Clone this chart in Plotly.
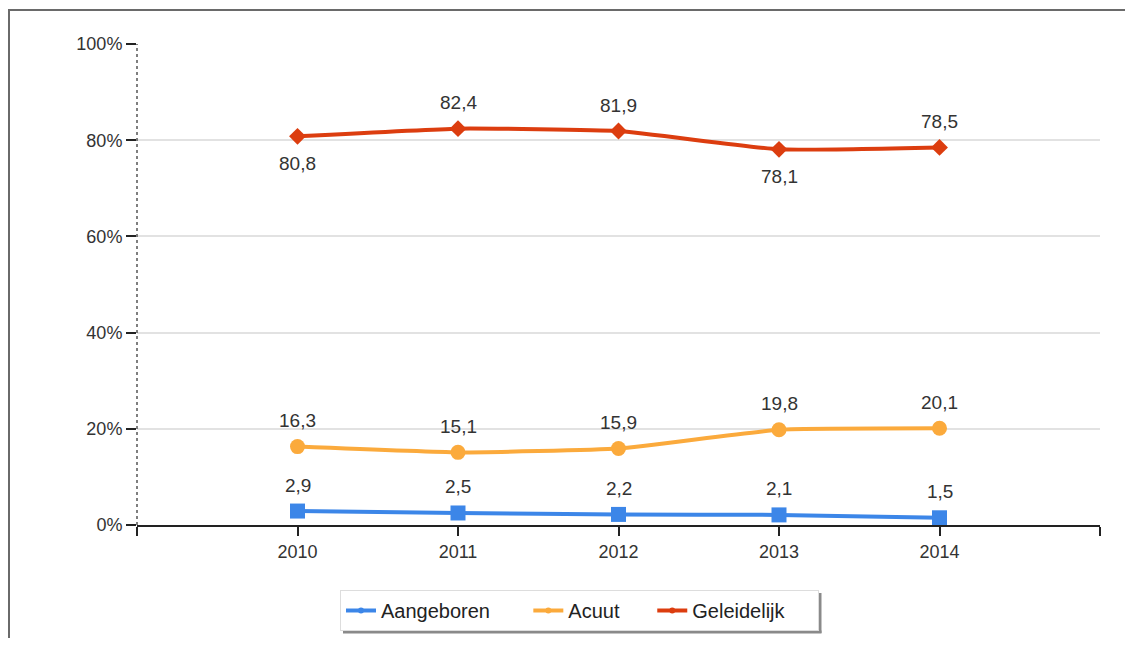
import plotly.graph_objects as go

# ---- data ----
years = [2010, 2011, 2012, 2013, 2014]
aangeboren = [2.9, 2.5, 2.2, 2.1, 1.5]
acuut = [16.3, 15.1, 15.9, 19.8, 20.1]
geleidelijk = [80.8, 82.4, 81.9, 78.1, 78.5]
y_ticks = [0, 20, 40, 60, 80, 100]
y_tick_labels = ["0%", "20%", "40%", "60%", "80%", "100%"]
series_names = ["Aangeboren", "Acuut", "Geleidelijk"]

# ---- style ----
colors = {"Aangeboren": "#3C86E8", "Acuut": "#FBAA3C", "Geleidelijk": "#DC3D0F"}
symbols = {"Aangeboren": "square", "Acuut": "circle", "Geleidelijk": "diamond"}
msize = {"Aangeboren": 15, "Acuut": 15, "Geleidelijk": 13}
label_below = {"Aangeboren": [False] * 5, "Acuut": [False] * 5,
               "Geleidelijk": [True, False, False, True, False]}
legend_pad = {"Aangeboren": 6, "Acuut": 5, "Geleidelijk": 5}  # trailing spacing
FONT = "Liberation Sans, Arial, sans-serif"
TXT = "#333333"

OFF = 8  # page body margin
W, H = 1133 - 2 * OFF, 646 - 2 * OFF
# plot area in screen pixels
L, R, T, B = 137, 1100, 44, 525


def px(x):
    return (x - L) / (R - L)


def py(y):
    return (B - y) / (B - T)


data = {"Aangeboren": aangeboren, "Acuut": acuut, "Geleidelijk": geleidelijk}

fig = go.Figure()
for name in series_names:
    fig.add_trace(go.Scatter(
        x=years, y=data[name], mode="lines+markers", name=name,
        line=dict(color=colors[name], width=4, shape="spline", smoothing=0.4),
        marker=dict(symbol=symbols[name], size=msize[name], color=colors[name]),
        showlegend=False, cliponaxis=False, hoverinfo="x+y+name"))
for name in series_names:
    fig.add_trace(go.Scatter(
        x=[None], y=[None], mode="lines+markers",
        name=name + "\u00a0" * legend_pad[name],
        line=dict(color=colors[name], width=4),
        marker=dict(symbol="circle", size=6, color=colors[name]),
        showlegend=True))

annotations = []
for name in series_names:
    for x, v, below in zip(years, data[name], label_below[name]):
        annotations.append(dict(
            x=x, y=v, xref="x", yref="y", text=f"{v:.1f}".replace(".", ","),
            showarrow=False, yshift=-27 if below else 26,
            font=dict(family=FONT, size=19, color=TXT)))

shapes = [
    # dotted y axis line
    dict(type="line", xref="paper", yref="paper", x0=0, x1=0, y0=0, y1=1,
         line=dict(color="#555555", width=1.5, dash="dot")),
    # outer frame (top and left)
    dict(type="line", xref="paper", yref="paper", x0=px(8), x1=px(1140),
         y0=py(10), y1=py(10), line=dict(color="#6a6a6a", width=2)),
    dict(type="line", xref="paper", yref="paper", x0=px(9), x1=px(9),
         y0=py(10), y1=py(650), line=dict(color="#6a6a6a", width=2)),
    # legend shadow
    dict(type="line", xref="paper", yref="paper", x0=px(820), x1=px(820),
         y0=py(593), y1=py(633), line=dict(color="#8a8a8a", width=3)),
    dict(type="line", xref="paper", yref="paper", x0=px(343), x1=px(821.5),
         y0=py(632), y1=py(632), line=dict(color="#8a8a8a", width=3)),
]

fig.update_layout(
    width=W, height=H,
    margin=dict(l=L - OFF, r=OFF + W - R, t=T - OFF, b=OFF + H - B, pad=0,
                autoexpand=False),
    paper_bgcolor="white", plot_bgcolor="white",
    font=dict(family=FONT, size=18, color=TXT),
    xaxis=dict(range=[2009, 2015], tickvals=[2009, 2010, 2011, 2012, 2013, 2014, 2015],
               ticktext=[""] + [str(y) for y in years] + [""],
               showgrid=False, zeroline=False, showline=True, linecolor="#222222",
               linewidth=2, ticks="outside", ticklen=9, tickwidth=2, tickcolor="#222222",
               tickfont=dict(size=18, color=TXT)),
    yaxis=dict(range=[0, 100], tickvals=y_ticks, ticktext=y_tick_labels,
               showgrid=True, gridcolor="#e2e2e2", gridwidth=2, zeroline=False,
               showline=False, ticks="outside", ticklen=10, tickwidth=2,
               tickcolor="#222222", tickfont=dict(size=18, color=TXT)),
    legend=dict(orientation="h", x=px(340), y=py(590), xanchor="left", yanchor="top",
                bgcolor="white", bordercolor="#dddddd", borderwidth=1,
                font=dict(family=FONT, size=20, color="#222222"), itemwidth=30),
    annotations=annotations,
    shapes=shapes,
)

fig.write_html("out.html")
